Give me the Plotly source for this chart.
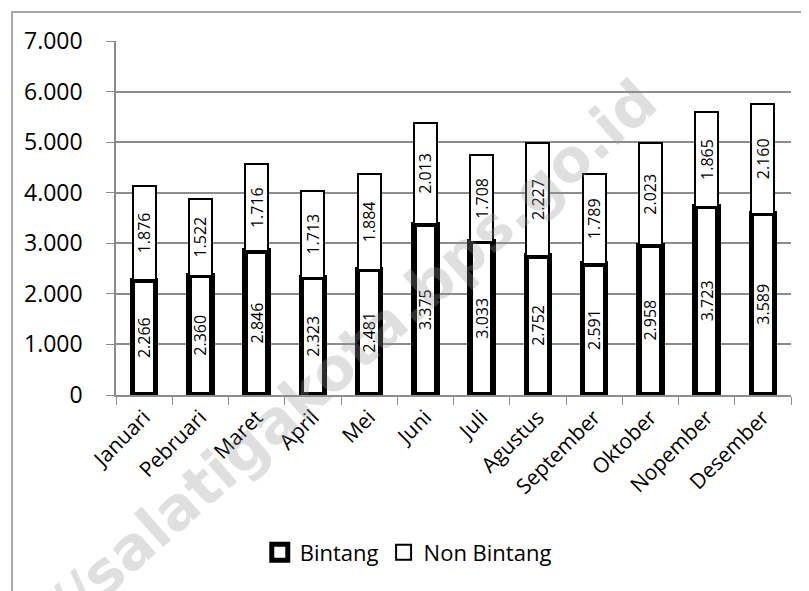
import plotly.graph_objects as go

months = ['Januari', 'Pebruari', 'Maret', 'April', 'Mei', 'Juni', 'Juli', 'Agustus',
          'September', 'Oktober', 'Nopember', 'Desember']
bintang = [2266, 2360, 2846, 2323, 2481, 3375, 3033, 2752, 2591, 2958, 3723, 3589]
non_bintang = [1876, 1522, 1716, 1713, 1884, 2013, 1708, 2227, 1789, 2023, 1865, 2160]
y_ticks = [0, 1000, 2000, 3000, 4000, 5000, 6000, 7000]

FONT = 'Open Sans'
GRID = '#8c8c8c'

fig = go.Figure()
fig.add_bar(x=months, y=bintang, name='Bintang', width=0.41, showlegend=False,
            marker=dict(color='white', line=dict(color='black', width=5.5)),
            texttemplate='%{y:,d}', textposition='inside', textangle=-90,
            insidetextanchor='middle', constraintext='none',
            textfont=dict(family=FONT, size=16, color='black'))
fig.add_bar(x=months, y=non_bintang, name='Non Bintang', width=0.41, showlegend=False,
            marker=dict(color='white', line=dict(color='black', width=2)),
            texttemplate='%{y:,d}', textposition='inside', textangle=-90,
            insidetextanchor='middle', constraintext='none',
            textfont=dict(family=FONT, size=16, color='black'))

# legend entries (square markers like the excel legend)
fig.add_scatter(x=[None], y=[None], mode='markers', name='Bintang',
                marker=dict(symbol='square', size=16, color='white', line=dict(color='black', width=5)))
fig.add_scatter(x=[None], y=[None], mode='markers', name='Non Bintang',
                marker=dict(symbol='square', size=15, color='white', line=dict(color='black', width=2)))

fig.update_layout(
    width=809, height=591,
    barmode='stack',
    separators=',.',
    paper_bgcolor='white', plot_bgcolor='white',
    margin=dict(l=108, r=26, t=33, b=204),
    font=dict(family=FONT, color='black'),
    showlegend=True,
    legend=dict(orientation='h', x=0.433, xanchor='center', y=-0.445, yanchor='middle',
                font=dict(family=FONT, size=22), traceorder='normal',
                itemwidth=30, tracegroupgap=0),
    xaxis=dict(tickangle=-45, tickfont=dict(family=FONT, size=21),
               showline=True, linecolor=GRID, linewidth=1.5,
               ticks='outside', tickson='boundaries', ticklen=8, tickcolor=GRID),
    yaxis=dict(range=[0, 7000], tickvals=y_ticks, tickformat=',d',
               tickfont=dict(family=FONT, size=23), ticklabelstandoff=19,
               showgrid=True, gridcolor=GRID, gridwidth=1.5,
               showline=True, linecolor=GRID, linewidth=1.5,
               ticks='outside', ticklen=8, tickcolor=GRID, zeroline=False),
    shapes=[dict(type='rect', xref='paper', yref='paper', x0=-0.154, x1=1.1, y0=-0.6, y1=1.082,
                 line=dict(color=GRID, width=1.5))],
    annotations=[dict(text='//salatigakota.bps.go.id', xref='paper', yref='paper',
                      x=0.35, y=0.12, xanchor='center', yanchor='middle',
                      showarrow=False, textangle=-41.5,
                      font=dict(family='DejaVu Sans', size=59, color='rgba(150,150,150,0.3)',
                                weight='bold'))],
)

fig.write_html('out.html')
